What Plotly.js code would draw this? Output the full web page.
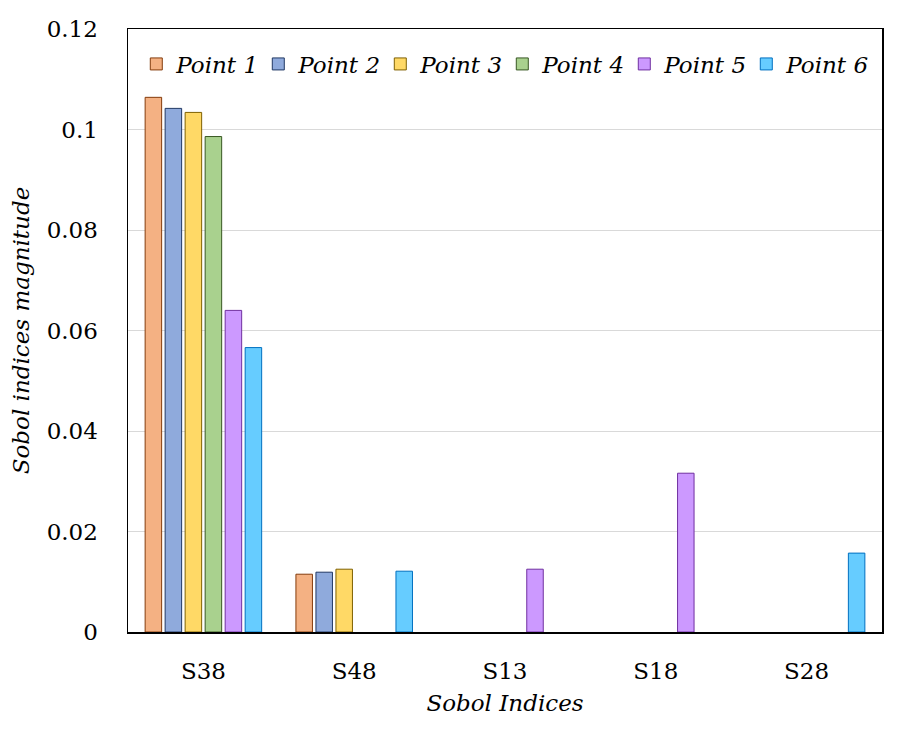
<!DOCTYPE html>
<html>
<head>
<meta charset="utf-8">
<script src="https://cdn.plot.ly/plotly-3.0.1.min.js"></script>
<style>
  html, body { margin: 0; padding: 0; background: #fff; }
  #chart { width: 904px; height: 729px; }
</style>
</head>
<body>
<div id="chart"></div>
<script>
// Sobol indices per point.
const indices = ["S38", "S48", "S13", "S18", "S28"];
const pointNames = ["Point 1", "Point 2", "Point 3", "Point 4", "Point 5", "Point 6"];

const point1 = [0.1064, 0.0115, 0, 0, 0];
const point2 = [0.1042, 0.0119, 0, 0, 0];
const point3 = [0.1034, 0.0125, 0, 0, 0];
const point4 = [0.0986, 0, 0, 0, 0];
const point5 = [0.0640, 0, 0.0125, 0.0316, 0];
const point6 = [0.0566, 0.0121, 0, 0, 0.0157];

const fills = ["#f4b183", "#8faadc", "#ffd966", "#a9d18e", "#cc99ff", "#66ccff"];
const edges = ["#843c0c", "#203864", "#7f6000", "#385723", "#7030a0", "#0070c0"];

const series = [point1, point2, point3, point4, point5, point6];
const FONT = "DejaVu Serif";

const data = series.map((vals, i) => ({
  type: "bar",
  name: "<i>" + pointNames[i] + "</i>",
  x: indices,
  y: vals,
  // zero-height bars get no outline, so nothing shows on the axis
  marker: { color: fills[i], line: { color: edges[i], width: vals.map(v => (v > 0 ? 1 : 0)) } },
  hoverinfo: "name+y",
}));

const layout = {
  width: 904,
  height: 729,
  font: { family: FONT, color: "#000", size: 23 },
  margin: { l: 128, r: 22, t: 29, b: 97 },
  barmode: "group",
  bargap: 0.204,
  bargroupgap: 0.175,
  legend: {
    orientation: "h",
    x: 0.011, xanchor: "left",
    y: 0.942, yanchor: "middle",
    bgcolor: "rgba(255,255,255,0)",
    entrywidth: 77,
    traceorder: "normal",
  },
  xaxis: {
    range: [-0.5, 4.5],
    showline: true, linecolor: "#000", linewidth: 1.5, mirror: true,
    ticks: "", showgrid: false,
    ticklabelstandoff: 18,
    title: { text: "<i>Sobol Indices</i>", font: { family: FONT, size: 23, color: "#000" }, standoff: 12 },
  },
  yaxis: {
    range: [0, 0.12],
    dtick: 0.02,
    showline: true, linecolor: "#000", linewidth: 1.5, mirror: true,
    ticks: "",
    gridcolor: "#d9d9d9", gridwidth: 1,
    zeroline: false,
    ticklabelstandoff: 24,
    title: { text: "<i>Sobol indices magnitude</i>", font: { family: FONT, size: 23, color: "#000" }, standoff: 10 },
  },
};

Plotly.newPlot("chart", data, layout, { displayModeBar: false, staticPlot: true });
</script>
</body>
</html>
